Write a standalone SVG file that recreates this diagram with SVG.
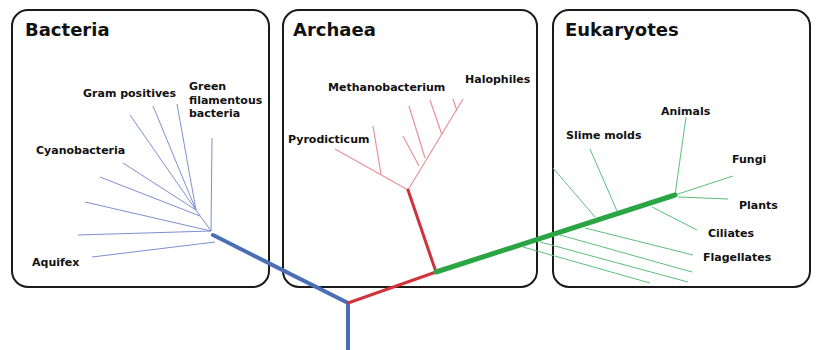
<svg xmlns="http://www.w3.org/2000/svg" width="817" height="350" viewBox="0 0 817 350">
<style>
.box{fill:#fff;stroke:#1a1a1a;stroke-width:2}
.title{font-family:"DejaVu Sans",Verdana,sans-serif;font-weight:bold;font-size:18px;fill:#111}
.lbl{font-family:"DejaVu Sans",Verdana,sans-serif;font-weight:bold;font-size:11px;fill:#111}
.bt{stroke:#7f8fcf;stroke-width:1;fill:none}
.rt{stroke:#e8929c;stroke-width:1.2;fill:none}
.gt{stroke:#5cbf7a;stroke-width:1;fill:none}
.bT{stroke:#4a6fb5;stroke-width:4;fill:none;stroke-linecap:round}
.rT{stroke:#d0343a;stroke-width:3;fill:none;stroke-linecap:round}
.gT{stroke:#2ba544;stroke-width:5;fill:none;stroke-linecap:round}
</style>
<rect width="817" height="350" fill="#fff"/>
<g id="bacteria">
<rect class="box" x="12" y="10" width="257" height="277" rx="16"/>
<text class="title" x="25" y="36">Bacteria</text>
</g>
<g id="archaea">
<rect class="box" x="283" y="10" width="254" height="277" rx="16"/>
<text class="title" x="293" y="36">Archaea</text>
</g>
<g id="eukaryotes">
<rect class="box" x="553" y="10" width="257" height="277" rx="16"/>
<text class="title" x="565" y="36">Eukaryotes</text>
</g>
<g id="connectors">
<path class="bt" d="M211 231L212 138M211 231L196 210M196 210L130 115M196 210L153 106M196 210L177 104M196 210L123 163M200 216L100 177M211 231L85 202M211 231L78 235M215 242L92 257"/>
<path class="rt" d="M408 190L463 99M409 106L425 158M403 136L419 166M430 100L442 135M453 99L457 111M408 190L335 149M373 126L381 174"/>
<path class="gt" d="M675 195L686 117M675 195L733 176M678 197L728 199M652 207L697 230M590 149L617 211M553 168L595 217M585 228L693 255M560 235L692 272M540 242L688 282M523 247L650 283"/>
<path class="bT" d="M213 235L348 303L348 352"/>
<path class="rT" d="M348 303L436 272M436 272L408 190"/>
<path class="gT" d="M436 272L675 195"/>
</g>
<g id="labels">
<text class="lbl" x="83" y="97">Gram positives</text>
<text class="lbl" x="189" y="90">Green</text>
<text class="lbl" x="189" y="104">filamentous</text>
<text class="lbl" x="189" y="117">bacteria</text>
<text class="lbl" x="36" y="154">Cyanobacteria</text>
<text class="lbl" x="32" y="266">Aquifex</text>
<text class="lbl" x="328" y="91">Methanobacterium</text>
<text class="lbl" x="465" y="83">Halophiles</text>
<text class="lbl" x="288" y="143">Pyrodicticum</text>
<text class="lbl" x="661" y="115">Animals</text>
<text class="lbl" x="566" y="139">Slime molds</text>
<text class="lbl" x="732" y="163">Fungi</text>
<text class="lbl" x="739" y="209">Plants</text>
<text class="lbl" x="708" y="237">Ciliates</text>
<text class="lbl" x="703" y="261">Flagellates</text>
</g>
</svg>
